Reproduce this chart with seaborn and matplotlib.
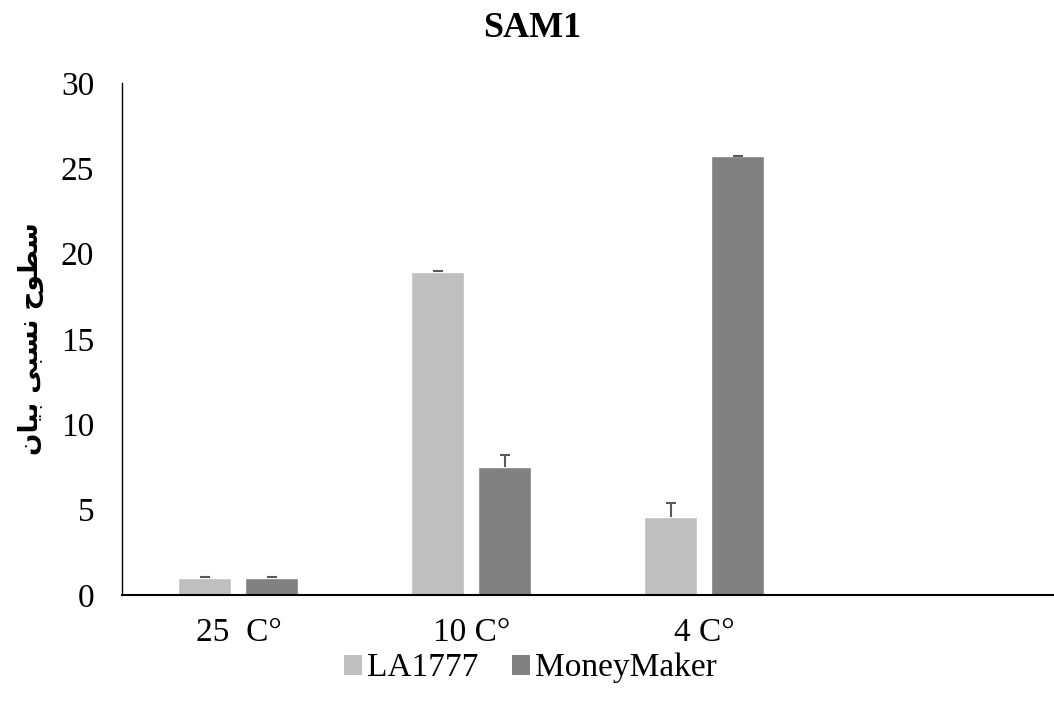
import numpy as np
import pandas as pd
import matplotlib
matplotlib.use("Agg")
import matplotlib.pyplot as plt
import seaborn as sns
from matplotlib.patches import Patch

# --- data ---
categories = ["25  C°", "10 C°", "4 C°", ""]
series = ["LA1777", "MoneyMaker"]
la1777 = [1.0, 18.9, 4.6]
moneymaker = [1.0, 7.5, 25.7]
la1777_err = [0.05, 0.1, 0.8]
moneymaker_err = [0.05, 0.7, 0.05]
colors = ["#BFBFBF", "#808080"]

# y label "سطوح نسبی بیان" in shaped presentation forms, visual order
ylab = "\uFEE5\uFE8E\uFEF4\uFE91 \uFEF0\uFE92\uFEB4\uFEE7 \uFEA1\uFEEE\uFEC4\uFEB3"

df = pd.DataFrame({
    "cat": categories[:3] * 2,
    "series": [series[0]] * 3 + [series[1]] * 3,
    "value": la1777 + moneymaker,
})

sns.set_style("white")
plt.rcParams["font.family"] = ["Liberation Serif", "DejaVu Sans"]
plt.rcParams["text.color"] = "black"
plt.rcParams["xtick.color"] = "black"
plt.rcParams["ytick.color"] = "black"
plt.rcParams["axes.labelcolor"] = "black"

fig, ax = plt.subplots(figsize=(10.54, 7.07), dpi=100)
fig.subplots_adjust(left=0.1157, right=1.0, bottom=0.1584, top=0.8826)

sns.barplot(data=df, x="cat", y="value", hue="series", order=categories,
            hue_order=series, palette=colors, width=0.575, gap=0.209,
            errorbar=None, ax=ax, legend=False, saturation=1)

# upper error bars only, placed on the bar patches
errs = la1777_err + moneymaker_err
bars = [p for p in ax.patches if p.get_height() > 0]
for p, e in zip(bars, errs):
    xc = p.get_x() + p.get_width() / 2
    top = p.get_height() + e
    ax.vlines(xc, p.get_height(), top, color="#595959", lw=1.5, zorder=3)
    ax.hlines(top, xc - 0.022, xc + 0.022, color="#595959", lw=1.5, zorder=3)

ax.set_xlim(-0.5, 3.5)
ax.set_ylim(0, 30)
ax.set_yticks(range(0, 31, 5))
ax.tick_params(axis="both", labelsize=24, length=0)
ax.tick_params(axis="y", pad=20)
ax.tick_params(axis="x", pad=16)
ax.set_xlabel("")
ax.set_ylabel(ylab, fontsize=19, fontweight="bold", family="DejaVu Sans", labelpad=12)
fig.text(0.505, 0.96, "SAM1", ha="center", va="center", fontsize=26, fontweight="bold")

sns.despine(ax=ax)
ax.spines["left"].set_color("#000000")
ax.spines["bottom"].set_color("#000000")
ax.spines["left"].set_linewidth(1.0)
ax.spines["bottom"].set_linewidth(1.5)

handles = [Patch(facecolor=c, edgecolor="none") for c in colors]
fig.legend(handles, series, loc="center", bbox_to_anchor=(0.503, 0.055),
           ncol=2, frameon=False, fontsize=24, handlelength=0.55,
           handleheight=0.55, handletextpad=0.15, columnspacing=1.0)

fig.savefig("out.png", dpi=100)
